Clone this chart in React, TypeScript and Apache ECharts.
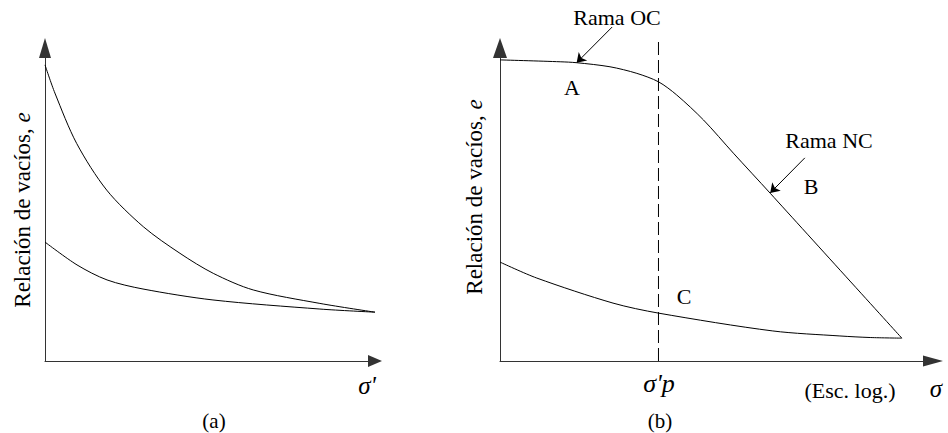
import React, { useEffect, useRef } from "react";
import * as echarts from "echarts";

// Panel (a): arithmetic scale
const leftUpperX = [0, 3.0, 9.6, 18.7, 29.8, 40.9, 51.0, 63.1, 83.3, 100];
const leftUpperY = [94.6, 85.6, 69.5, 54.6, 42.9, 34.4, 28.0, 22.7, 18.4, 15.6];
const leftLowerX = [0, 9.7, 18.8, 29.7, 50.9, 83.3, 100];
const leftLowerY = [38.0, 30.7, 25.9, 23.0, 19.5, 16.6, 15.6];

// Panel (b): log scale
const rightLoadX = [0, 13.9, 17.7, 25.4, 31.6, 36.6, 40.8, 47.0, 53.9, 62.4, 92.8];
const rightLoadY = [96.2, 95.6, 95.3, 94.0, 91.9, 89.2, 85.0, 77.0, 66.4, 53.6, 7.3];
const rightUnloadX = [0, 8.5, 26.1, 36.6, 63.0, 78.5, 85.5, 92.8];
const rightUnloadY = [31.6, 26.5, 18.5, 15.3, 9.6, 8.0, 7.5, 7.3];

const sigmaP = 36.6;
const sigmaPLineY = [0, 103.2];

// pointer arrows [fromX, fromY, toX, toY]
const arrowOC = [25.9, 106.7, 17.7, 95.3];
const arrowNC = [70.4, 64.9, 62.4, 53.7];

const Y_LABEL = "Relación de vacíos, ";
const Y_LABEL_VAR = "e";

const FONT = "'Liberation Serif', 'Times New Roman', serif";

const zip = (xs: number[], ys: number[]) => xs.map((x, i) => [x, ys[i]]);

function measure(text: string, font: string) {
  const c = document.createElement("canvas").getContext("2d");
  if (!c) return text.length * 10;
  c.font = font;
  return c.measureText(text).width;
}

export default function App() {
  const ref = useRef<HTMLDivElement>(null);
  useEffect(() => {
    if (!ref.current) return;
    const chart = echarts.init(ref.current, null, { renderer: "svg" });
    const axisColor = "#333";
    const baseAxis = {
      type: "value" as const,
      min: 0,
      max: 100,
      axisTick: { show: false },
      axisLabel: { show: false },
      splitLine: { show: false },
    };
    const curve = {
      type: "line" as const,
      showSymbol: false,
      symbol: "none",
      smooth: 0.3,
      lineStyle: { color: "#000", width: 1 },
      silent: true,
    };
    const txt = (text: string, x: number, y: number, size = 22, extra: any = {}) => ({
      type: "text",
      x,
      y,
      style: {
        text,
        fontFamily: FONT,
        fontSize: size,
        fill: "#000",
        textAlign: "center",
        textVerticalAlign: "middle",
        ...extra,
      },
    });
    const ySize = 23;
    const w1 = measure(Y_LABEL, `${ySize}px 'Liberation Serif'`);
    const w2 = measure(Y_LABEL_VAR, `italic ${ySize}px 'Liberation Serif'`);
    const total = w1 + w2;
    const yLabel = (cx: number, cy: number) => ({
      type: "group",
      x: cx,
      y: cy + total / 2,
      rotation: Math.PI / 2,
      children: [
        {
          type: "text",
          x: 0,
          y: 0,
          style: {
            text: Y_LABEL,
            fontFamily: FONT,
            fontSize: ySize,
            fill: "#000",
            textAlign: "left",
            textVerticalAlign: "middle",
          },
        },
        {
          type: "text",
          x: w1,
          y: 0,
          style: {
            text: Y_LABEL_VAR,
            fontFamily: FONT,
            fontSize: ySize,
            fontStyle: "italic",
            fill: "#000",
            textAlign: "left",
            textVerticalAlign: "middle",
          },
        },
      ],
    });
    chart.setOption({
      animation: false,
      backgroundColor: "#fff",
      grid: [
        { left: 45, top: 48, width: 330, height: 313 },
        { left: 500, top: 48, width: 433, height: 313 },
      ],
      xAxis: [
        {
          ...baseAxis,
          gridIndex: 0,
          axisLine: {
            show: true,
            symbol: ["none", "triangle"],
            symbolSize: [12, 14],
            lineStyle: { color: axisColor, width: 1 },
          },
        },
        {
          ...baseAxis,
          gridIndex: 1,
          axisLine: {
            show: true,
            symbol: ["none", "triangle"],
            symbolSize: [11, 20],
            lineStyle: { color: axisColor, width: 1 },
          },
        },
      ],
      yAxis: [
        {
          ...baseAxis,
          gridIndex: 0,
          axisLine: {
            show: true,
            symbol: ["none", "triangle"],
            symbolSize: [12, 20],
            lineStyle: { color: axisColor, width: 1 },
          },
        },
        {
          ...baseAxis,
          gridIndex: 1,
          axisLine: {
            show: true,
            symbol: ["none", "triangle"],
            symbolSize: [14, 20],
            lineStyle: { color: axisColor, width: 1 },
          },
        },
      ],
      series: [
        { ...curve, xAxisIndex: 0, yAxisIndex: 0, data: zip(leftUpperX, leftUpperY) },
        { ...curve, xAxisIndex: 0, yAxisIndex: 0, data: zip(leftLowerX, leftLowerY) },
        { ...curve, xAxisIndex: 1, yAxisIndex: 1, data: zip(rightLoadX, rightLoadY) },
        { ...curve, xAxisIndex: 1, yAxisIndex: 1, data: zip(rightUnloadX, rightUnloadY) },
        {
          type: "line",
          xAxisIndex: 1,
          yAxisIndex: 1,
          showSymbol: false,
          symbol: "none",
          clip: false,
          silent: true,
          lineStyle: { color: "#000", width: 1, type: [13, 5] },
          data: sigmaPLineY.map((y) => [sigmaP, y]),
        },
        {
          type: "lines",
          coordinateSystem: "cartesian2d",
          xAxisIndex: 1,
          yAxisIndex: 1,
          clip: false,
          silent: true,
          symbol: ["none", "arrow"],
          symbolSize: 9,
          lineStyle: { color: "#000", width: 1, opacity: 1 },
          data: [arrowOC, arrowNC].map((a) => ({
            coords: [
              [a[0], a[1]],
              [a[2], a[3]],
            ],
          })),
        },
      ],
      graphic: [
        yLabel(22, 210),
        yLabel(474, 197),
        txt("σ'", 367, 385, 25, { fontStyle: "italic" }),
        txt("(a)", 214, 421, 21),
        txt("(b)", 660, 421, 21),
        txt("Rama OC", 617, 17),
        txt("Rama NC", 829, 140),
        txt("A", 572, 87),
        txt("B", 811, 186),
        txt("C", 684, 296),
        txt("σ'p", 659, 383, 26, { fontStyle: "italic" }),
        txt("(Esc. log.)", 850, 390),
        txt("σ", 936, 388, 25, { fontStyle: "italic" }),
      ],
    });
    return () => chart.dispose();
  }, []);
  return (
    <div
      ref={ref}
      style={{ position: "fixed", left: 0, top: 0, width: 948, height: 433 }}
    />
  );
}
